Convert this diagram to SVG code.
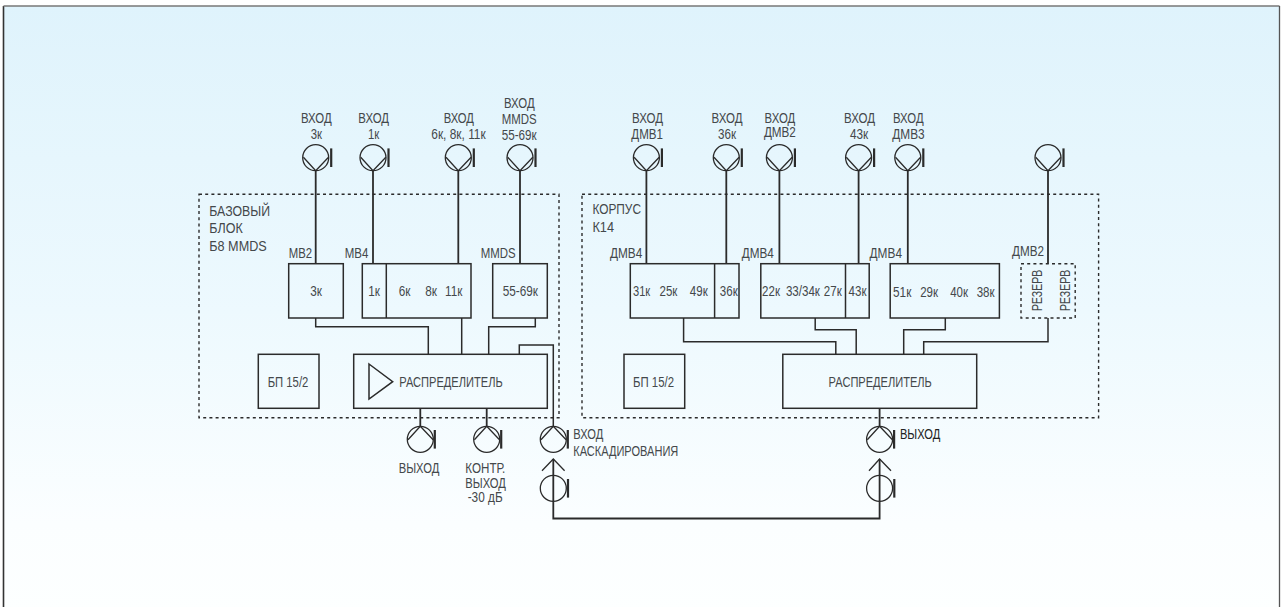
<svg xmlns="http://www.w3.org/2000/svg" width="1281" height="607" viewBox="0 0 1281 607">
<style>
.b{fill:none;stroke:#2b2b2b;stroke-width:1.5}
.d{fill:none;stroke:#2b2b2b;stroke-width:1.4;stroke-dasharray:3 3.2}
.c{fill:none;stroke:#2b2b2b;stroke-width:1.5}
.k{fill:none;stroke:#2b2b2b;stroke-width:1.8}
.a{fill:none;stroke:#2b2b2b;stroke-width:1.3}
.q{fill:#2b2b2b}
text{font-family:"Liberation Sans",Arial,sans-serif;font-size:15px;fill:#44484b}
</style>
<defs>
<linearGradient id="bg" x1="0" y1="0" x2="0" y2="1">
<stop offset="0" stop-color="#dff3fc"/>
<stop offset="0.5" stop-color="#edf9fe"/>
<stop offset="0.85" stop-color="#fbfeff"/>
<stop offset="1" stop-color="#fdffff"/>
</linearGradient>
<g id="antIn"><circle class="a" r="13"/><path class="a" d="M-12.3,-0.5 L0,13 L12.8,-0.5"/><rect class="q" x="14.4" y="-9.3" width="2.2" height="18.6"/></g>
<g id="antOut"><circle class="a" r="13"/><path class="a" d="M-12.3,0.5 L0,-13 L12.8,0.5"/><rect class="q" x="13.4" y="-9.3" width="2.2" height="18.6"/></g>
<g id="antPlain"><circle class="a" r="13"/><rect class="q" x="13.6" y="-9.3" width="2.2" height="18.6"/></g>
</defs>
<rect id="background" x="3.5" y="6" width="1276" height="610" fill="url(#bg)"/>
<path d="M3.5,607 V6" fill="none" stroke="#333" stroke-width="1.6"/>
<path d="M3.5,6 H1279.5" fill="none" stroke="#777" stroke-width="1.3"/>
<path d="M1279.5,6 V607" fill="none" stroke="#555" stroke-width="1.3"/>

<g id="base-frame"><rect class="d" x="199" y="194.3" width="360" height="223.4"/>
<text x="209.3" y="216" textLength="60.7" lengthAdjust="spacingAndGlyphs">БАЗОВЫЙ</text>
<text x="209.3" y="233.3" textLength="33.4" lengthAdjust="spacingAndGlyphs">БЛОК</text>
<text x="209.3" y="250.7" textLength="57.4" lengthAdjust="spacingAndGlyphs">Б8 MMDS</text></g>
<g id="case-frame"><rect class="d" x="582" y="194.3" width="516.6" height="223.4"/>
<text x="592.4" y="214" textLength="48.6" lengthAdjust="spacingAndGlyphs">КОРПУС</text>
<text x="592.4" y="231.7" textLength="21.6" lengthAdjust="spacingAndGlyphs">К14</text></g>

<g id="connectors">
<path class="k" d="M315.7,170.7 V263.7"/>
<path class="k" d="M373,170.7 V263.7"/>
<path class="k" d="M458.3,170.7 V263.7"/>
<path class="k" d="M520,170.7 V263.7"/>
<path class="k" d="M646.4,170.7 V263.7"/>
<path class="k" d="M726.3,170.7 V263.7"/>
<path class="k" d="M779.4,170.7 V263.7"/>
<path class="k" d="M858.6,170.7 V263.7"/>
<path class="k" d="M907.8,170.7 V263.7"/>
<path class="k" d="M1048,170.7 V263.7"/>
<path class="c" d="M315.7,318 V326.7 H428.3 V354.3"/>
<path class="c" d="M461.7,318 V354.3"/>
<path class="c" d="M535.3,318 V326.7 H488.7 V354.3"/>
<path class="c" d="M519.3,354.3 V345 H553.3 V426"/>
<path class="k" d="M420.3,408.3 V426"/>
<path class="k" d="M486.7,408.3 V426"/>
<path class="c" d="M683.6,318 V341.7 H835.8 V354.3"/>
<path class="c" d="M815.2,318 V329.7 H856.2 V354.3"/>
<path class="c" d="M945.3,318 V329.7 H903.7 V354.3"/>
<path class="c" d="M1048,318 V341.7 H923.7 V354.3"/>
<path class="k" d="M879.6,408.3 V426"/>
<path class="k" d="M553.3,459 V518.5 H879.6 V459"/>
<path class="a" d="M542,470.7 L553.3,459 L564.6,470.7"/>
<path class="a" d="M869,470.7 L879.6,459 L891,470.7"/>
</g>

<g id="ant-3k"><use href="#antIn" x="315.7" y="157.7"/><text x="301" y="122.7" textLength="30.7" lengthAdjust="spacingAndGlyphs">ВХОД</text><text x="310.7" y="138.7" textLength="11.3" lengthAdjust="spacingAndGlyphs">3к</text></g>
<g id="ant-1k"><use href="#antIn" x="373" y="157.7"/><text x="358.3" y="122.7" textLength="30.7" lengthAdjust="spacingAndGlyphs">ВХОД</text><text x="368" y="138.7" textLength="11.3" lengthAdjust="spacingAndGlyphs">1к</text></g>
<g id="ant-6k"><use href="#antIn" x="458.3" y="157.7"/><text x="443.7" y="122.7" textLength="30.3" lengthAdjust="spacingAndGlyphs">ВХОД</text><text x="431.3" y="138.7" textLength="54.4" lengthAdjust="spacingAndGlyphs">6к, 8к, 11к</text></g>
<g id="ant-mmds"><use href="#antIn" x="520" y="157.7"/><text x="504" y="108" textLength="30.7" lengthAdjust="spacingAndGlyphs">ВХОД</text><text x="501.7" y="124" textLength="35" lengthAdjust="spacingAndGlyphs">MMDS</text><text x="501.7" y="140" textLength="35" lengthAdjust="spacingAndGlyphs">55-69к</text></g>
<g id="ant-dmv1"><use href="#antIn" x="646.4" y="157.7"/><text x="632" y="122.7" textLength="31" lengthAdjust="spacingAndGlyphs">ВХОД</text><text x="631.3" y="138.7" textLength="31.7" lengthAdjust="spacingAndGlyphs">ДМВ1</text></g>
<g id="ant-36k"><use href="#antIn" x="726.3" y="157.7"/><text x="711.5" y="122.7" textLength="31" lengthAdjust="spacingAndGlyphs">ВХОД</text><text x="718" y="138.7" textLength="18" lengthAdjust="spacingAndGlyphs">36к</text></g>
<g id="ant-dmv2"><use href="#antIn" x="779.4" y="157.7"/><text x="764.6" y="122.7" textLength="30.6" lengthAdjust="spacingAndGlyphs">ВХОД</text><text x="763.9" y="136.7" textLength="32" lengthAdjust="spacingAndGlyphs">ДМВ2</text></g>
<g id="ant-43k"><use href="#antIn" x="858.6" y="157.7"/><text x="844" y="122.7" textLength="31" lengthAdjust="spacingAndGlyphs">ВХОД</text><text x="850" y="138.7" textLength="18.2" lengthAdjust="spacingAndGlyphs">43к</text></g>
<g id="ant-dmv3"><use href="#antIn" x="907.8" y="157.7"/><text x="893" y="122.7" textLength="30.6" lengthAdjust="spacingAndGlyphs">ВХОД</text><text x="892.3" y="138.7" textLength="32.4" lengthAdjust="spacingAndGlyphs">ДМВ3</text></g>
<g id="ant-spare"><use href="#antIn" x="1048" y="157.7"/></g>

<g id="box-mv2"><rect class="b" x="288.7" y="263.7" width="54.6" height="54.3"/><text x="288.7" y="258.3" textLength="23.3" lengthAdjust="spacingAndGlyphs">МВ2</text><text x="310.3" y="296" textLength="11.7" lengthAdjust="spacingAndGlyphs">3к</text></g>
<g id="box-mv4"><rect class="b" x="362.3" y="263.7" width="108.7" height="54.3"/><path class="b" d="M386.3,263.7 V318"/><text x="344.7" y="258.3" textLength="23.6" lengthAdjust="spacingAndGlyphs">МВ4</text><text x="368.3" y="296" textLength="11.7" lengthAdjust="spacingAndGlyphs">1к</text><text x="398.7" y="296" textLength="11.7" lengthAdjust="spacingAndGlyphs">6к</text><text x="425.3" y="296" textLength="11.7" lengthAdjust="spacingAndGlyphs">8к</text><text x="445" y="296" textLength="17.3" lengthAdjust="spacingAndGlyphs">11к</text></g>
<g id="box-mmds"><rect class="b" x="492.7" y="263.7" width="54.6" height="54.3"/><text x="480.7" y="258.3" textLength="35" lengthAdjust="spacingAndGlyphs">MMDS</text><text x="502.7" y="296" textLength="35.3" lengthAdjust="spacingAndGlyphs">55-69к</text></g>
<g id="box-psu1"><rect class="b" x="258.3" y="354.3" width="60.7" height="54"/><text x="267.7" y="386.7" textLength="40.6" lengthAdjust="spacingAndGlyphs">БП 15/2</text></g>
<g id="box-dist1"><rect class="b" x="353.7" y="354.3" width="193.6" height="54"/><path class="b" d="M369,364 L392.7,381.7 L369,399 Z"/><text x="399.3" y="386.7" textLength="103.4" lengthAdjust="spacingAndGlyphs">РАСПРЕДЕЛИТЕЛЬ</text></g>
<g id="ant-out1"><use href="#antOut" x="420.3" y="439.3"/><text x="398.7" y="473.3" textLength="40.6" lengthAdjust="spacingAndGlyphs">ВЫХОД</text></g>
<g id="ant-out2"><use href="#antOut" x="486.7" y="439.3"/><text x="465.3" y="473.3" textLength="40" lengthAdjust="spacingAndGlyphs">КОНТР.</text><text x="465.3" y="487.7" textLength="40.6" lengthAdjust="spacingAndGlyphs">ВЫХОД</text><text x="467.7" y="501.7" textLength="35" lengthAdjust="spacingAndGlyphs">-30 дБ</text></g>
<g id="ant-casc"><use href="#antOut" x="553.3" y="439.3"/><text x="573.3" y="439.3" textLength="30" lengthAdjust="spacingAndGlyphs">ВХОД</text><text x="573.3" y="455.7" textLength="105" lengthAdjust="spacingAndGlyphs">КАСКАДИРОВАНИЯ</text></g>
<g id="ant-casc-low"><use href="#antPlain" x="553.3" y="488.3"/></g>

<g id="box-dmv4a"><rect class="b" x="630.3" y="263.7" width="108.7" height="54.3"/><path class="b" d="M714.6,263.7 V318"/><text x="610" y="258.3" textLength="32.3" lengthAdjust="spacingAndGlyphs">ДМВ4</text><text x="633" y="295.7" textLength="17.2" lengthAdjust="spacingAndGlyphs">31к</text><text x="659.5" y="295.7" textLength="17.9" lengthAdjust="spacingAndGlyphs">25к</text><text x="689.8" y="295.7" textLength="17.9" lengthAdjust="spacingAndGlyphs">49к</text><text x="719.8" y="295.7" textLength="17.9" lengthAdjust="spacingAndGlyphs">36к</text></g>
<g id="box-dmv4b"><rect class="b" x="760.8" y="263.7" width="108.4" height="54.3"/><path class="b" d="M845.5,263.7 V318"/><text x="741.8" y="258.3" textLength="32.1" lengthAdjust="spacingAndGlyphs">ДМВ4</text><text x="762.1" y="295.7" textLength="17.9" lengthAdjust="spacingAndGlyphs">22к</text><text x="785.9" y="295.7" textLength="34" lengthAdjust="spacingAndGlyphs">33/34к</text><text x="823.8" y="295.7" textLength="17.9" lengthAdjust="spacingAndGlyphs">27к</text><text x="848.6" y="295.7" textLength="17.9" lengthAdjust="spacingAndGlyphs">43к</text></g>
<g id="box-dmv4c"><rect class="b" x="890.2" y="263.7" width="109.2" height="54.3"/><text x="869.6" y="258.3" textLength="32.4" lengthAdjust="spacingAndGlyphs">ДМВ4</text><text x="893" y="296.7" textLength="18.3" lengthAdjust="spacingAndGlyphs">51к</text><text x="920.2" y="296.7" textLength="17.9" lengthAdjust="spacingAndGlyphs">29к</text><text x="950.2" y="296.7" textLength="17.8" lengthAdjust="spacingAndGlyphs">40к</text><text x="976.7" y="296.7" textLength="17.9" lengthAdjust="spacingAndGlyphs">38к</text></g>
<g id="box-reserve"><rect class="d" x="1021" y="263.7" width="54.2" height="54.3"/><text x="1012" y="255.7" textLength="32" lengthAdjust="spacingAndGlyphs">ДМВ2</text><text transform="translate(1042.4 311) rotate(-90)" textLength="41.3" lengthAdjust="spacingAndGlyphs">РЕЗЕРВ</text><text transform="translate(1070 311) rotate(-90)" textLength="41.3" lengthAdjust="spacingAndGlyphs">РЕЗЕРВ</text></g>
<g id="box-psu2"><rect class="b" x="624" y="354.3" width="60.7" height="54"/><text x="633" y="386.7" textLength="41" lengthAdjust="spacingAndGlyphs">БП 15/2</text></g>
<g id="box-dist2"><rect class="b" x="782.8" y="354.3" width="193.9" height="54"/><text x="828.6" y="386.7" textLength="103.3" lengthAdjust="spacingAndGlyphs">РАСПРЕДЕЛИТЕЛЬ</text></g>
<g id="ant-out3"><use href="#antOut" x="879.6" y="439.3"/><text x="899.9" y="439.3" textLength="40.3" lengthAdjust="spacingAndGlyphs" style="fill:#222">ВЫХОД</text></g>
<g id="ant-out3-low"><use href="#antPlain" x="879.6" y="488.3"/></g>
</svg>
